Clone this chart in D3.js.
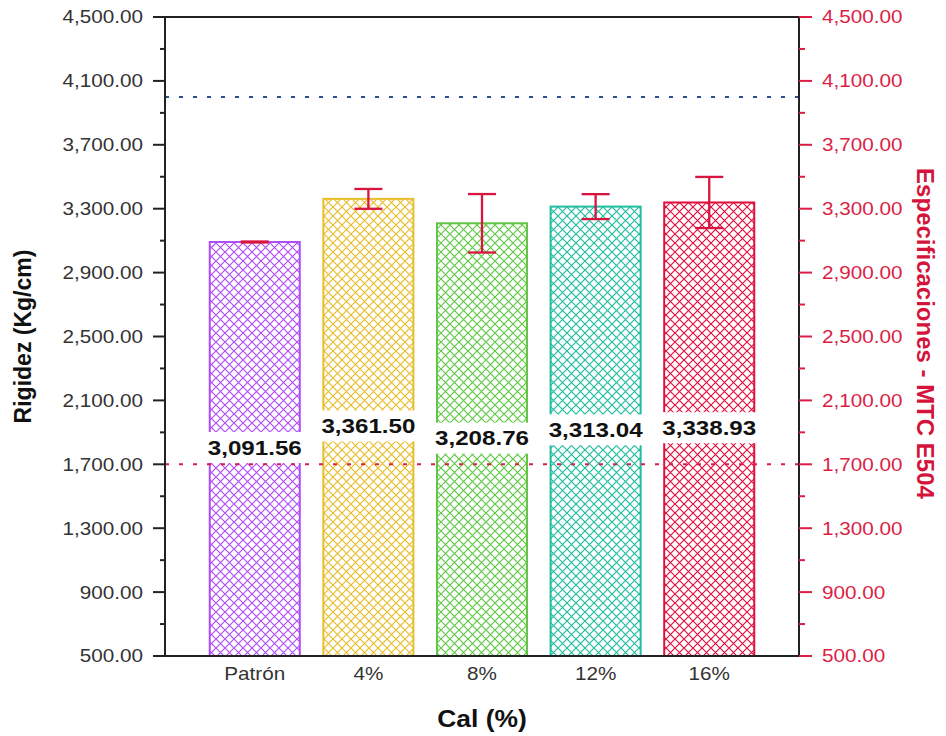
<!DOCTYPE html>
<html>
<head>
<meta charset="utf-8">
<script src="https://cdn.jsdelivr.net/npm/d3@7/dist/d3.min.js"></script>
<style>
  html, body { margin: 0; padding: 0; background: #fff; }
  svg { display: block; font-family: "Liberation Sans", Arial, sans-serif; }
</style>
</head>
<body>
<svg id="chart" width="946" height="736"></svg>
<script>
// Rigidez (Kg/cm) por porcentaje de cal, con desviación y especificaciones MTC E504
const categories = ["Patrón", "4%", "8%", "12%", "16%"];
const rigidez = [3091.56, 3361.50, 3208.76, 3313.04, 3338.93];
const desviacion = [3, 62, 183, 78, 160];
const barColors = ["#b04ef6", "#e8bd2a", "#5fc743", "#1fbc9f", "#e0103e"];
const specUpper = 4000;
const specLower = 1700;
const yTicks = [500, 900, 1300, 1700, 2100, 2500, 2900, 3300, 3700, 4100, 4500];
const yMinorTicks = [700, 1100, 1500, 1900, 2300, 2700, 3100, 3500, 3900, 4300];
const xTitle = "Cal (%)";
const yTitle = "Rigidez (Kg/cm)";
const y2Title = "Especificaciones - MTC E504";

const plotLeft = 165, plotRight = 799, plotTop = 17, plotBottom = 656;
const SX = 1.15;               // horizontal stretch applied to horizontal text
const red = "#dc1e46";
const fmt = d3.format(",.2f");

const svg = d3.select("#chart");
const defs = svg.append("defs");

const x = d3.scaleBand()
  .domain(categories)
  .range([plotLeft, plotRight])
  .paddingInner(0.19)
  .paddingOuter(0.385);

const y = d3.scaleLinear().domain([500, 4500]).range([plotBottom, plotTop]);

// cross-hatch pattern per bar colour
barColors.forEach((c, i) => {
  const p = defs.append("pattern")
    .attr("id", "hatch" + i)
    .attr("patternUnits", "userSpaceOnUse")
    .attr("width", 9).attr("height", 9);
  p.append("path")
    .attr("d", "M0,0L9,9M9,0L0,9")
    .attr("stroke", c)
    .attr("stroke-width", 1.2)
    .attr("fill", "none");
});

// bars
const data = categories.map((c, i) => ({ cat: c, v: rigidez[i], sd: desviacion[i], color: barColors[i], i }));

svg.append("g").selectAll("rect").data(data).join("rect")
  .attr("x", d => x(d.cat) + 1)
  .attr("y", d => y(d.v))
  .attr("width", x.bandwidth() - 2)
  .attr("height", d => y(500) - y(d.v))
  .attr("fill", d => `url(#hatch${d.i})`)
  .attr("stroke", d => d.color)
  .attr("stroke-width", 2);

// specification lines
svg.append("line")
  .attr("x1", plotLeft).attr("x2", plotRight)
  .attr("y1", y(specUpper)).attr("y2", y(specUpper))
  .attr("stroke", "#2e4f8e").attr("stroke-width", 2)
  .attr("stroke-dasharray", "4,10");
svg.append("line")
  .attr("x1", plotLeft).attr("x2", plotRight)
  .attr("y1", y(specLower)).attr("y2", y(specLower))
  .attr("stroke", red).attr("stroke-width", 2)
  .attr("stroke-dasharray", "4,10");

// error bars
const eb = svg.append("g").attr("stroke", "#d81440").attr("stroke-width", 2.3).attr("fill", "none");
const cap = 14;
data.forEach(d => {
  const cx = x(d.cat) + x.bandwidth() / 2;
  eb.append("line").attr("x1", cx).attr("x2", cx).attr("y1", y(d.v + d.sd)).attr("y2", y(d.v - d.sd));
  eb.append("line").attr("x1", cx - cap).attr("x2", cx + cap).attr("y1", y(d.v + d.sd)).attr("y2", y(d.v + d.sd));
  eb.append("line").attr("x1", cx - cap).attr("x2", cx + cap).attr("y1", y(d.v - d.sd)).attr("y2", y(d.v - d.sd));
});

// value labels with white boxes, centred in the bar
const lab = svg.append("g");
data.forEach(d => {
  const cx = x(d.cat) + x.bandwidth() / 2;
  const cy = (y(d.v) + y(500)) / 2 - 2;
  const g = lab.append("g");
  const box = g.append("rect").attr("fill", "#fff");
  const t = g.append("text")
    .attr("transform", `translate(${cx},${cy}) scale(${SX},1)`)
    .attr("text-anchor", "middle")
    .attr("dy", "0.36em")
    .attr("font-size", 21)
    .attr("font-weight", "bold")
    .attr("fill", "#111")
    .text(fmt(d.v));
  const w = t.node().getComputedTextLength() * SX + 8;
  box.attr("x", cx - w / 2).attr("y", cy - 15).attr("width", w).attr("height", 31);
});

// frame
const frame = svg.append("g").attr("stroke", "#222").attr("stroke-width", 2).attr("fill", "none");
frame.append("rect").attr("x", plotLeft).attr("y", plotTop).attr("width", plotRight - plotLeft).attr("height", plotBottom - plotTop);

// left axis
const la = svg.append("g");
la.selectAll("line.major").data(yTicks).join("line").attr("class", "major")
  .attr("x1", plotLeft - 12).attr("x2", plotLeft)
  .attr("y1", d => y(d)).attr("y2", d => y(d))
  .attr("stroke", "#222").attr("stroke-width", 2);
la.selectAll("line.minor").data(yMinorTicks).join("line").attr("class", "minor")
  .attr("x1", plotLeft - 5).attr("x2", plotLeft)
  .attr("y1", d => y(d)).attr("y2", d => y(d))
  .attr("stroke", "#222").attr("stroke-width", 2);
la.selectAll("text").data(yTicks).join("text")
  .attr("transform", d => `translate(${plotLeft - 22},${y(d)}) scale(${SX},1)`)
  .attr("text-anchor", "end")
  .attr("dy", "0.36em")
  .attr("font-size", 18)
  .attr("fill", "#333")
  .text(d => fmt(d));

// right axis
const ra = svg.append("g");
ra.selectAll("line.major").data(yTicks).join("line").attr("class", "major")
  .attr("x1", plotRight).attr("x2", plotRight + 13)
  .attr("y1", d => y(d)).attr("y2", d => y(d))
  .attr("stroke", red).attr("stroke-width", 2);
ra.selectAll("line.minor").data(yMinorTicks).join("line").attr("class", "minor")
  .attr("x1", plotRight).attr("x2", plotRight + 6)
  .attr("y1", d => y(d)).attr("y2", d => y(d))
  .attr("stroke", red).attr("stroke-width", 2);
ra.selectAll("text").data(yTicks).join("text")
  .attr("transform", d => `translate(${plotRight + 23},${y(d)}) scale(${SX},1)`)
  .attr("text-anchor", "start")
  .attr("dy", "0.36em")
  .attr("font-size", 18)
  .attr("fill", red)
  .text(d => fmt(d));

// category labels
svg.append("g").selectAll("text").data(categories).join("text")
  .attr("transform", d => `translate(${x(d) + x.bandwidth() / 2},680) scale(${SX},1)`)
  .attr("text-anchor", "middle")
  .attr("font-size", 18)
  .attr("fill", "#333")
  .text(d => d);

// axis titles
svg.append("text")
  .attr("transform", `translate(${(plotLeft + plotRight) / 2},727) scale(${SX},1)`)
  .attr("text-anchor", "middle")
  .attr("font-size", 23).attr("font-weight", "bold").attr("fill", "#111")
  .text(xTitle);
svg.append("text")
  .attr("transform", `translate(31,${(plotTop + plotBottom) / 2}) rotate(-90)`)
  .attr("text-anchor", "middle")
  .attr("font-size", 23).attr("font-weight", "bold").attr("fill", "#111")
  .text(yTitle);
svg.append("text")
  .attr("transform", `translate(917,${(plotTop + plotBottom) / 2 - 3}) rotate(90)`)
  .attr("text-anchor", "middle")
  .attr("font-size", 24).attr("font-weight", "bold").attr("fill", "#d4143c")
  .text(y2Title);
</script>
</body>
</html>
